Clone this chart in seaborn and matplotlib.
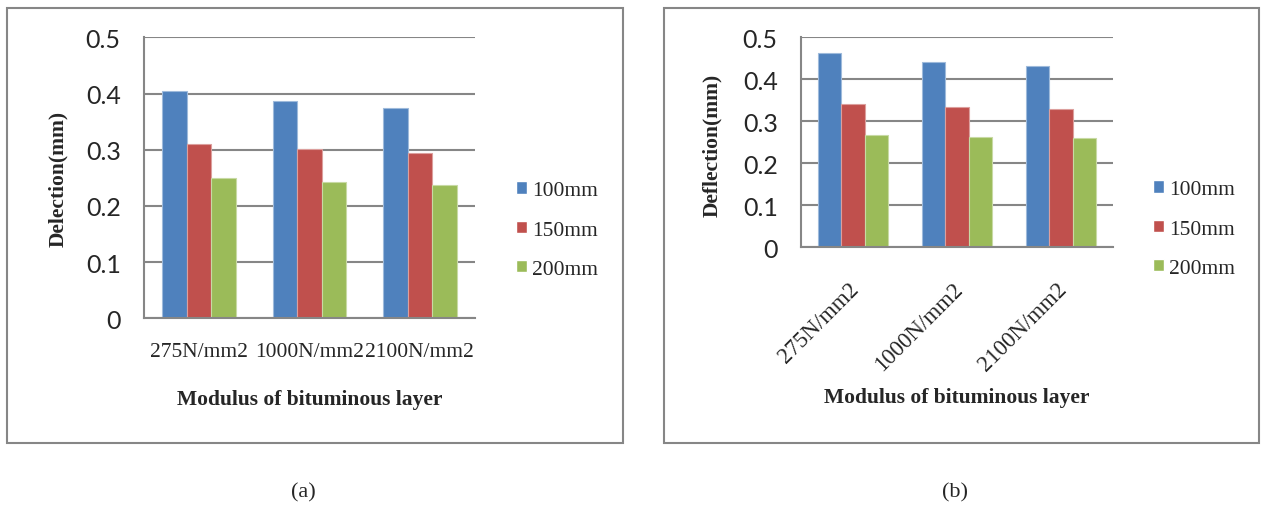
import pandas as pd
import matplotlib.pyplot as plt
import matplotlib.transforms as mtransforms
from matplotlib.patches import Rectangle
import matplotlib.colors as mcolors
import seaborn as sns

# data
modulus = ["275N/mm2", "1000N/mm2", "2100N/mm2"]
thickness = ["100mm", "150mm", "200mm"]
deflection_a = {"100mm": [0.405, 0.387, 0.375],
                "150mm": [0.311, 0.301, 0.294],
                "200mm": [0.249, 0.242, 0.238]}
deflection_b = {"100mm": [0.462, 0.442, 0.431],
                "150mm": [0.341, 0.333, 0.329],
                "200mm": [0.267, 0.262, 0.260]}
ytick_vals = [0, 0.1, 0.2, 0.3, 0.4, 0.5]
ytick_labels = ["0", "0.1", "0.2", "0.3", "0.4", "0.5"]
colors = ["#4F81BD", "#C0504D", "#9BBB59"]

W, H = 1261, 506
GRAY = "#868686"

sns.set_style("white")
plt.rcParams["font.family"] = ["Liberation Serif", "DejaVu Serif"]


def to_long(d):
    rows = []
    for t in thickness:
        for m, v in zip(modulus, d[t]):
            rows.append({"modulus": m, "thickness": t, "deflection": v})
    return pd.DataFrame(rows)


fig = plt.figure(figsize=(W / 100, H / 100), dpi=100)


def px_axes(x0, y0, x1, y1):
    return fig.add_axes([x0 / W, 1 - y1 / H, (x1 - x0) / W, (y1 - y0) / H])


def frame(x0, y0, x1, y1):
    fig.patches.append(Rectangle((x0 / W, 1 - y1 / H), (x1 - x0) / W, (y1 - y0) / H,
                                 transform=fig.transFigure, fill=False,
                                 edgecolor=GRAY, linewidth=1.5))


def draw_panel(ax, data, ylabel, ylab_xy, xlab_xy, leg_xy, rotated):
    df = to_long(data)
    sns.barplot(data=df, x="modulus", y="deflection", hue="thickness",
                hue_order=thickness, order=modulus, palette=colors,
                saturation=1, width=0.667, gap=0, ax=ax, legend=False)
    for p in ax.patches:
        fc = mcolors.to_rgb(p.get_facecolor())
        p.set_edgecolor(tuple(c + (1 - c) * 0.45 for c in fc))
        p.set_linewidth(0.8)
    ax.set_ylim(0, 0.5)
    ax.set_xlim(-0.5, 2.5)
    ax.set_axisbelow(True)
    ax.yaxis.grid(True, color=GRAY, linewidth=1.5)
    ax.set_yticks(ytick_vals)
    ax.set_yticklabels(ytick_labels, family="Lato", fontsize=18)
    ax.set_xticks([-0.5, 0.5, 1.5, 2.5], minor=True)
    ax.tick_params(axis="y", which="major", length=5.8, width=1.5, color=GRAY,
                   direction="out", pad=11)
    ax.tick_params(axis="x", which="minor", length=5.8, width=1.5, color=GRAY,
                   direction="out")
    for s in ["top", "right"]:
        ax.spines[s].set_visible(False)
    for s in ["left", "bottom"]:
        ax.spines[s].set_color(GRAY)
        ax.spines[s].set_linewidth(1.5)

    if rotated:
        ax.tick_params(axis="x", which="major", length=0, pad=22, labelsize=16.5)
        off = mtransforms.ScaledTranslation(-5 / 100, 0, fig.dpi_scale_trans)
        for lab in ax.get_xticklabels():
            lab.set_rotation(45)
            lab.set_ha("right")
            lab.set_va("top")
            lab.set_rotation_mode("anchor")
            lab.set_transform(lab.get_transform() + off)
    else:
        ax.tick_params(axis="x", which="major", length=0, pad=17, labelsize=15.5)

    ax.set_xlabel("Modulus of bituminous layer", fontsize=15.5, fontweight="bold")
    ax.set_ylabel(ylabel, fontsize=15.5, fontweight="bold")
    ax.xaxis.set_label_coords(*xlab_xy)
    ax.yaxis.set_label_coords(*ylab_xy)
    ax.xaxis.label.set_va("center")
    ax.yaxis.label.set_va("center")

    handles = [Rectangle((0, 0), 1, 1, facecolor=c) for c in colors]
    ax.legend(handles, thickness, loc="center left",
              bbox_to_anchor=(leg_xy[0] / W, 1 - leg_xy[1] / H),
              bbox_transform=fig.transFigure, frameon=False, fontsize=15.5,
              handlelength=0.5, handleheight=0.5, handletextpad=0.25,
              labelspacing=0.95, borderpad=0, borderaxespad=0)


# panel (a)
frame(7, 9, 623, 444)
ax_a = px_axes(144, 38.3, 475, 319.3)
draw_panel(ax_a, deflection_a, "Delection(mm)",
           ylab_xy=(-0.26, 0.5), xlab_xy=(0.5, -0.287),
           leg_xy=(516, 231), rotated=False)

# panel (b)
frame(664, 9, 1259, 444)
ax_b = px_axes(801, 38.3, 1113, 248.3)
draw_panel(ax_b, deflection_b, "Deflection(mm)",
           ylab_xy=(-0.285, 0.49), xlab_xy=(0.5, -0.713),
           leg_xy=(1153, 230), rotated=True)

fig.text(303 / W, 1 - 493 / H, "(a)", ha="center", va="center", fontsize=16)
fig.text(955 / W, 1 - 493 / H, "(b)", ha="center", va="center", fontsize=16)

plt.savefig("out.png", dpi=100)
plt.close(fig)
